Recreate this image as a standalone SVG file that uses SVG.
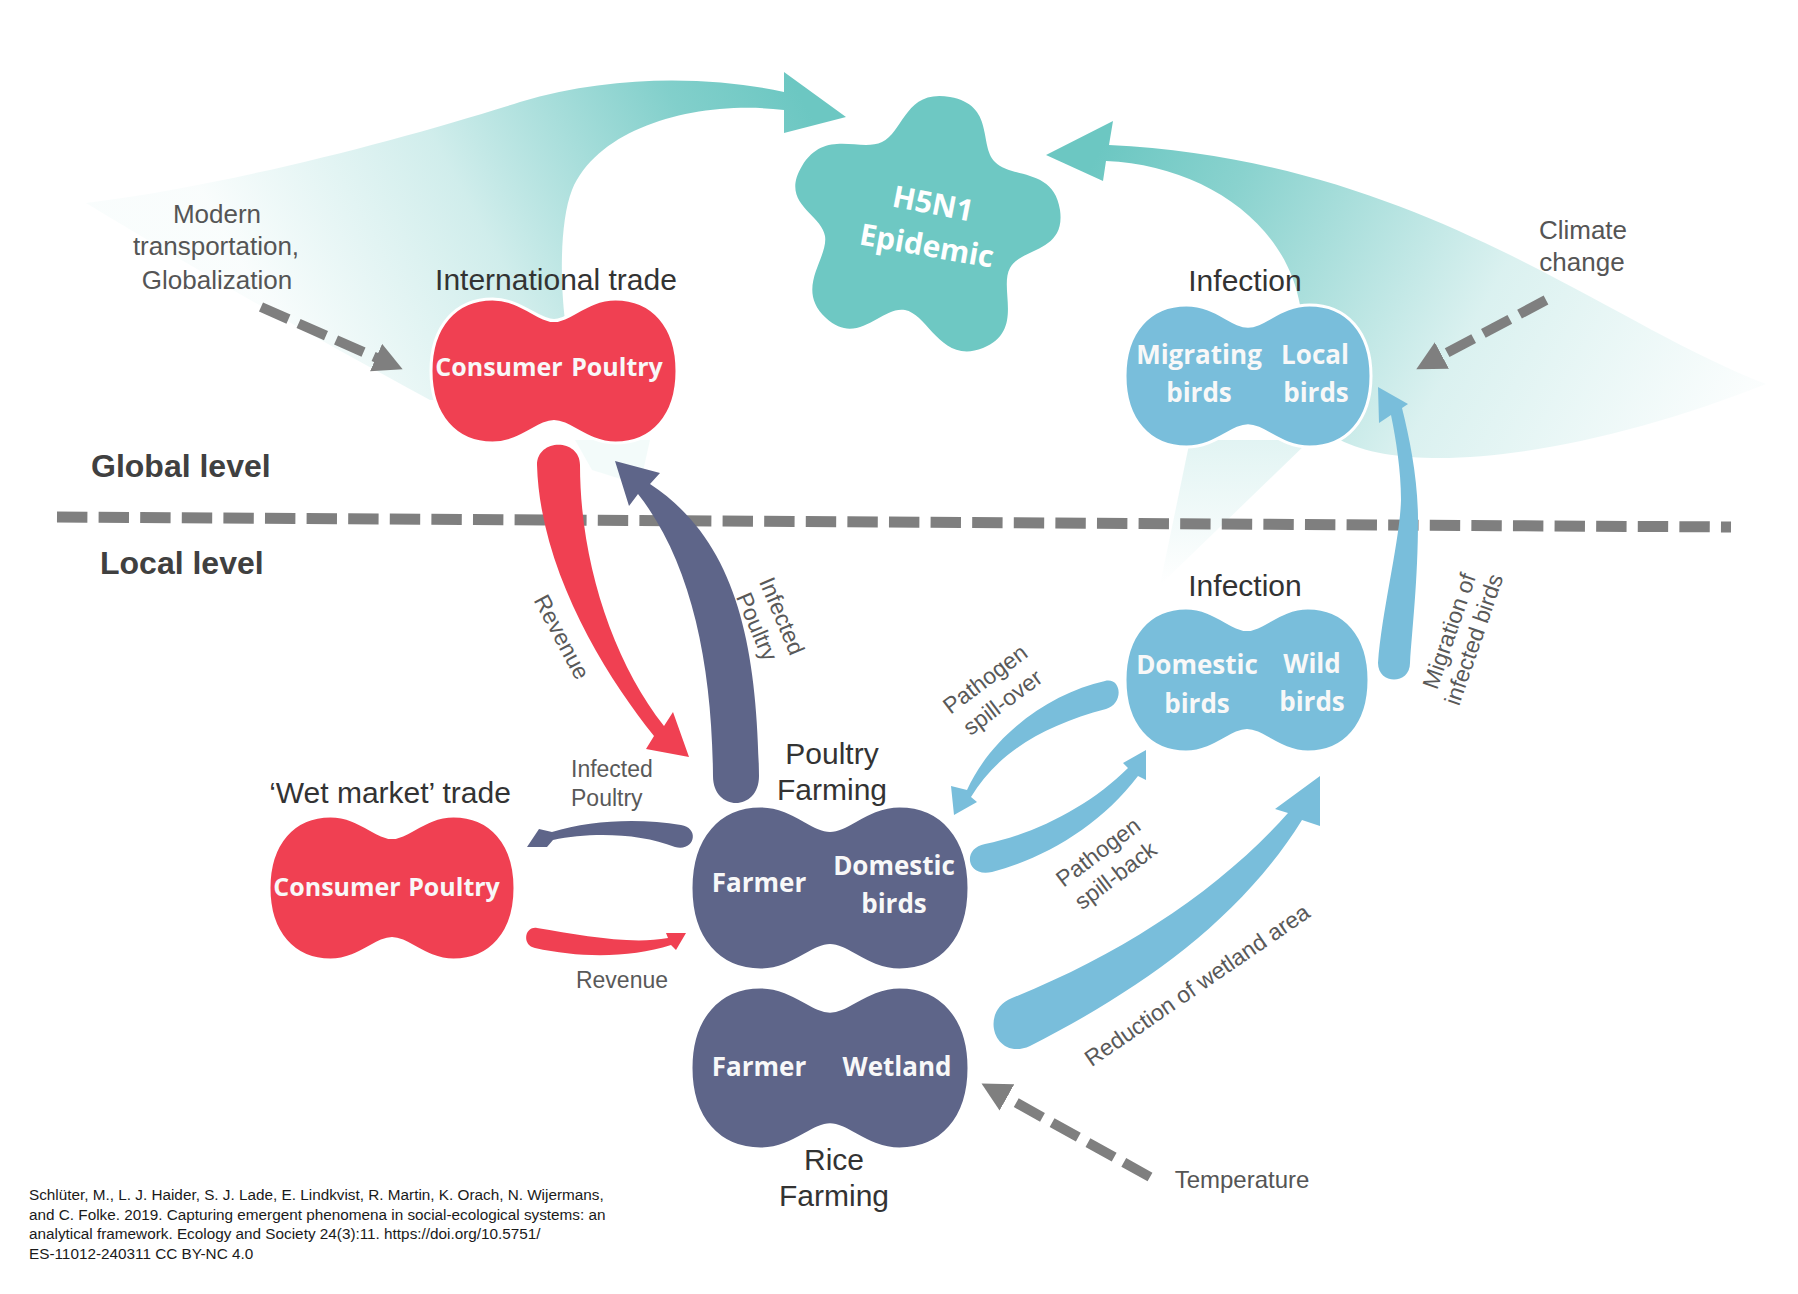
<svg xmlns="http://www.w3.org/2000/svg" width="1798" height="1294" viewBox="0 0 1798 1294">
<defs>
<style>
.lbl{font-family:"Liberation Sans",Arial,sans-serif;fill:#595959;font-size:23px}
.ttl{font-family:"Liberation Sans",Arial,sans-serif;fill:#333;font-size:30px;text-anchor:middle}
.side{font-family:"Liberation Sans",Arial,sans-serif;fill:#555;font-size:26px;text-anchor:middle}
.lvl{font-family:"Liberation Sans",Arial,sans-serif;fill:#404040;font-size:32px;font-weight:bold}
.nt{font-family:"Open Sans","Noto Sans",sans-serif;font-weight:bold;fill:#f8f8f8;font-size:26px;text-anchor:middle}
.st{font-family:"Open Sans","Noto Sans",sans-serif;font-weight:bold;fill:#fff;font-size:30px;text-anchor:middle}
.cite{font-family:"Liberation Sans",Arial,sans-serif;fill:#1a1a1a;font-size:15.3px}
.rot{dominant-baseline:central;text-anchor:middle}
.red{fill:#f04052}
.blue{fill:#79bedb}
.slate{fill:#5e6589}
.node{stroke:#fff;stroke-width:3}
.dash{stroke:#7f7f7f;stroke-width:10;stroke-dasharray:30 11;fill:none}
</style>
<path id="pn" vector-effect="non-scaling-stroke" d="M0,-0.7 C0.13,-0.7 0.27,-1 0.5,-1 C0.8,-1 1,-0.62 1,0 C1,0.62 0.8,1 0.5,1 C0.27,1 0.13,0.7 0,0.7 C-0.13,0.7 -0.27,1 -0.5,1 C-0.8,1 -1,0.62 -1,0 C-1,-0.62 -0.8,-1 -0.5,-1 C-0.27,-1 -0.13,-0.7 0,-0.7 Z"/>
<linearGradient id="gL" gradientUnits="userSpaceOnUse" x1="800" y1="95" x2="300" y2="370">
<stop offset="0" stop-color="#6cc7c2" stop-opacity="1"/>
<stop offset="0.2" stop-color="#6cc7c2" stop-opacity="0.85"/>
<stop offset="0.6" stop-color="#6cc7c2" stop-opacity="0.32"/>
<stop offset="1" stop-color="#6cc7c2" stop-opacity="0.04"/>
</linearGradient>
<linearGradient id="gR" gradientUnits="userSpaceOnUse" x1="1100" y1="150" x2="1700" y2="480">
<stop offset="0" stop-color="#6cc7c2" stop-opacity="1"/>
<stop offset="0.2" stop-color="#6cc7c2" stop-opacity="0.8"/>
<stop offset="0.6" stop-color="#6cc7c2" stop-opacity="0.25"/>
<stop offset="1" stop-color="#6cc7c2" stop-opacity="0.03"/>
</linearGradient>
<linearGradient id="gW" gradientUnits="userSpaceOnUse" x1="0" y1="440" x2="0" y2="585">
<stop offset="0" stop-color="#6cc7c2" stop-opacity="0.2"/>
<stop offset="1" stop-color="#6cc7c2" stop-opacity="0"/>
</linearGradient>
<marker id="gh" viewBox="0 0 29 30" refX="1" refY="15" markerWidth="29" markerHeight="30" markerUnits="userSpaceOnUse" orient="auto">
<path d="M0,0 L29,15 L0,30 Z" fill="#7f7f7f"/>
</marker>
</defs>

<g id="fans">
<path d="M86,203 C230,185 400,140 520,102 C620,72 720,78 784,92 L784,72 L846,117 L784,133 L784,110 C700,100 600,125 572,190 C560,220 560,280 565,320 L640,330 L640,400 L430,400 C300,330 180,260 86,203 Z" fill="url(#gL)"/>
<path d="M575,440 L650,440 L640,485 L592,470 Z" fill="#6cc7c2" fill-opacity="0.08"/>
<path d="M1766,384 C1600,320 1420,160 1109,145 L1113,121 L1046,155 L1103,181 L1106,161 C1200,165 1285,220 1300,305 L1340,330 L1340,440 C1420,480 1600,450 1766,384 Z" fill="url(#gR)"/>
<path d="M1190,440 L1310,440 L1160,585 Z" fill="url(#gW)"/>
</g>

<g id="levels">
<line x1="57" y1="517" x2="1731" y2="527" stroke="#7f7f7f" stroke-width="11" stroke-dasharray="30.4 11.2"/>
<text class="lvl" x="91" y="477">Global level</text>
<text class="lvl" x="100" y="574">Local level</text>
</g>

<g id="connectors">
<path class="red" d="M537,465 C537,438 580,438 580,465 C580,560 612,660 664,726 L673,712 L689,757 L646,749 L654,736 C605,675 540,570 537,465 Z"/>
<path class="slate" d="M713,776 C713,812 759,812 759,776 C757,640 735,540 650,484 L660,473 L615,461 L629,506 L638,494 C690,560 712,660 713,776 Z"/>
<path class="slate" d="M681,825 C640,818 590,820 552,832 L539,829 L527,847 L547,847 L553,840 C590,832 640,833 675,847 C695,852 700,828 681,825 Z"/>
<path class="red" d="M537,928 C580,935 630,945 668,938 L666,933 L686,933 L676,950 L671,945 C630,958 580,958 535,948 C522,946 524,926 537,928 Z"/>
<path class="blue" d="M1105,681 C1050,693 992,735 967,790 L951,786 L954,815 L977,802 L971,797 C998,752 1045,725 1106,709 C1124,704 1122,677 1105,681 Z"/>
<path class="blue" d="M985,844 C1035,834 1090,806 1128,768 L1123,763 L1146,750 L1146,780 L1138,776 C1100,826 1045,858 992,872 C966,878 962,848 985,844 Z"/>
<path class="blue" d="M1012,998 C1120,955 1220,890 1288,813 L1275,809 L1320,776 L1320,826 L1302,820 C1240,920 1140,990 1030,1046 C995,1062 978,1012 1012,998 Z"/>
<path class="blue" d="M1378,663 C1382,610 1400,540 1401,500 C1401,470 1396,440 1391,415 L1379,423 L1378,387 L1408,404 L1402,408 C1410,440 1418,480 1418,520 C1418,580 1412,630 1410,663 C1410,685 1378,685 1378,663 Z"/>
<line class="dash" x1="261" y1="307" x2="377" y2="358" marker-end="url(#gh)"/>
<line class="dash" x1="1546" y1="300" x2="1441" y2="356" marker-end="url(#gh)"/>
<line class="dash" x1="1150" y1="1177" x2="1006" y2="1097" marker-end="url(#gh)"/>
<text class="lbl rot" transform="translate(562,637) rotate(62)">Revenue</text>
<text class="lbl rot" transform="translate(782,616) rotate(67)"><tspan x="0" y="0">Infected</tspan><tspan x="0" y="27">Poultry</tspan></text>
<text class="lbl" x="571" y="777">Infected</text>
<text class="lbl" x="571" y="806">Poultry</text>
<text class="lbl" x="622" y="988" text-anchor="middle">Revenue</text>
<text class="lbl rot" transform="translate(985,679) rotate(-37)"><tspan x="0" y="0">Pathogen</tspan><tspan x="0" y="29">spill-over</tspan></text>
<text class="lbl rot" transform="translate(1098,852) rotate(-37)"><tspan x="0" y="0">Pathogen</tspan><tspan x="0" y="29">spill-back</tspan></text>
<text class="lbl rot" transform="translate(1197,985) rotate(-34.5)">Reduction of wetland area</text>
<text class="lbl rot" transform="translate(1449,631) rotate(-71)"><tspan x="0" y="0">Migration of</tspan><tspan x="0" y="26">infected birds</tspan></text>
</g>

<g id="drivers">
<text class="side" x="217" y="223">Modern</text>
<text class="side" x="216" y="255">transportation,</text>
<text class="side" x="217" y="289">Globalization</text>
<text class="side" x="1583" y="239">Climate</text>
<text class="side" x="1582" y="271">change</text>
<text class="side" x="1242" y="1188" style="font-size:24px">Temperature</text>
</g>

<g id="h5n1">
<path fill="#6ec8c3" d="M950,97 C995.2,105 978.5,145.1 995,162 C1011.5,178.9 1054,167.6 1060,210 C1066,252.4 1021.5,247.3 1010,268 C998.5,288.7 1025,331.2 983,348 C941,364.8 928.6,314.5 905,310 C881.4,305.5 858,347.6 826,318 C794,288.4 828.6,258.8 825,236 C821.4,213.2 779.2,203.6 802,166 C824.8,128.4 859.8,152.4 882,142 C904.2,131.6 904.8,89 950,97 Z"/>
<text class="st" transform="translate(931,214) rotate(11)">H5N1</text>
<text class="st" transform="translate(925,256) rotate(10)">Epidemic</text>
</g>

<g id="international-trade">
<use href="#pn" class="red node" transform="translate(554,371) scale(123,72)"/>
<text class="ttl" x="556" y="290">International trade</text>
<text class="nt" x="499" y="376" style="font-size:25px">Consumer</text>
<text class="nt" x="617" y="376" style="font-size:25px">Poultry</text>
</g>

<g id="infection-global">
<use href="#pn" class="blue node" transform="translate(1248,376) scale(123,71)"/>
<text class="ttl" x="1245" y="291">Infection</text>
<text class="nt" x="1199" y="364">Migrating</text>
<text class="nt" x="1199" y="402">birds</text>
<text class="nt" x="1315" y="364">Local</text>
<text class="nt" x="1316" y="402">birds</text>
</g>

<g id="infection-local">
<use href="#pn" class="blue node" transform="translate(1247,680) scale(122,72)"/>
<text class="ttl" x="1245" y="596">Infection</text>
<text class="nt" x="1197" y="674">Domestic</text>
<text class="nt" x="1197" y="713">birds</text>
<text class="nt" x="1312" y="673">Wild</text>
<text class="nt" x="1312" y="711">birds</text>
</g>

<g id="wet-market">
<use href="#pn" class="red node" transform="translate(392,888) scale(123,72)"/>
<text class="ttl" x="390" y="803">‘Wet market’ trade</text>
<text class="nt" x="337" y="896" style="font-size:25px">Consumer</text>
<text class="nt" x="454" y="896" style="font-size:25px">Poultry</text>
</g>

<g id="poultry-farming">
<use href="#pn" class="slate node" transform="translate(830,888) scale(139,82)"/>
<text class="ttl" x="832" y="764">Poultry</text>
<text class="ttl" x="832" y="800">Farming</text>
<text class="nt" x="759" y="892">Farmer</text>
<text class="nt" x="894" y="875">Domestic</text>
<text class="nt" x="894" y="913">birds</text>
</g>

<g id="rice-farming">
<use href="#pn" class="slate node" transform="translate(830,1068) scale(139,81)"/>
<text class="nt" x="759" y="1076">Farmer</text>
<text class="nt" x="897" y="1076">Wetland</text>
<text class="ttl" x="834" y="1170">Rice</text>
<text class="ttl" x="834" y="1206">Farming</text>
</g>

<g id="citation">
<text class="cite" x="29" y="1200">Schlüter, M., L. J. Haider, S. J. Lade, E. Lindkvist, R. Martin, K. Orach, N. Wijermans,</text>
<text class="cite" x="29" y="1219.5">and C. Folke. 2019. Capturing emergent phenomena in social-ecological systems: an</text>
<text class="cite" x="29" y="1239">analytical framework. Ecology and Society 24(3):11. https://doi.org/10.5751/</text>
<text class="cite" x="29" y="1258.5">ES-11012-240311 CC BY-NC 4.0</text>
</g>
</svg>
